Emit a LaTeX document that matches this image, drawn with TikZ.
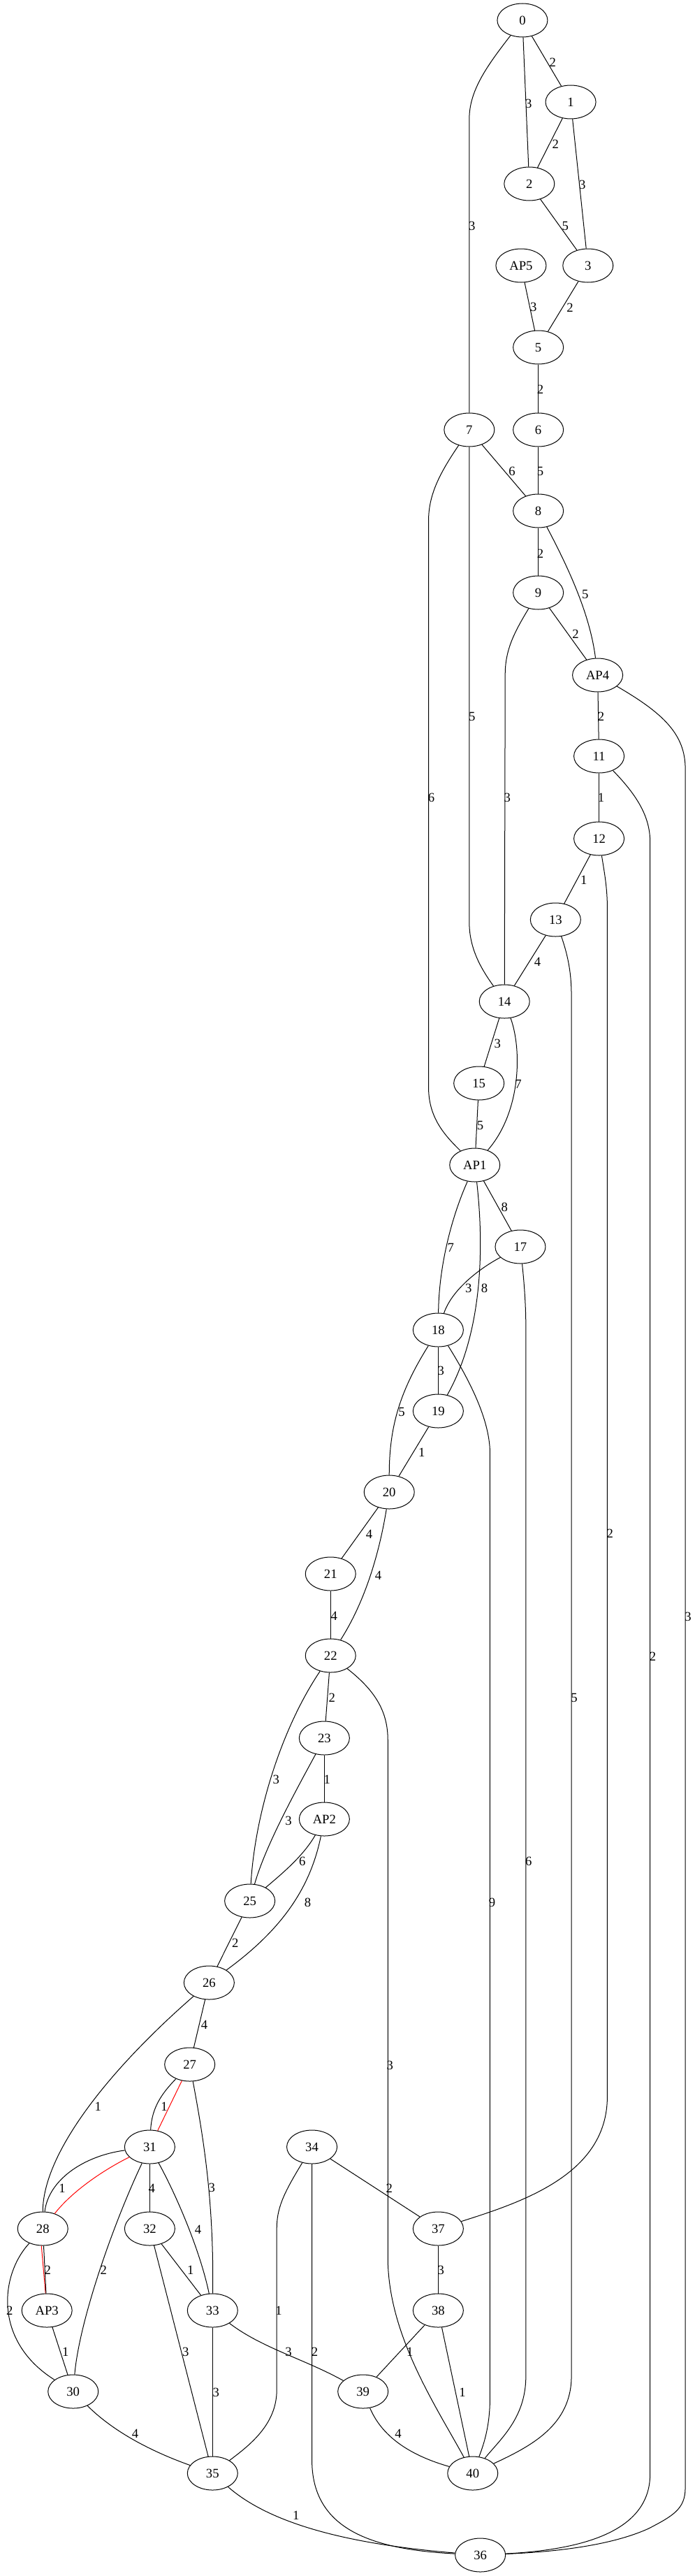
\documentclass[tikz,border=0pt]{standalone}
\usepackage{fontspec}
\setmainfont{Liberation Serif}
\usetikzlibrary{shapes.geometric}
\begin{document}
\begin{tikzpicture}[x=0.741pt,y=-0.75pt,
  vtx/.style={ellipse,draw,line width=0.75pt,minimum width=54pt,minimum height=36pt,inner sep=0pt,font=\fontsize{14}{16}\selectfont},
  lbl/.style={font=\fontsize{14}{16}\selectfont,inner sep=0pt},
  edge/.style={line width=0.75pt},
  hl/.style={line width=0.75pt,red}]
\useasboundingbox (0,0) rectangle (1007,3686);
% nodes
\node[vtx] (n0) at (757,29) {0};
\node[vtx] (n1) at (827,146) {1};
\node[vtx] (n2) at (767,263) {2};
\node[vtx] (nAP5) at (755,380) {AP5};
\node[vtx] (n3) at (852,380) {3};
\node[vtx] (n5) at (780,497) {5};
\node[vtx] (n7) at (680,615) {7};
\node[vtx] (n6) at (780,615) {6};
\node[vtx] (n8) at (780,731) {8};
\node[vtx] (n9) at (780,848) {9};
\node[vtx] (nAP4) at (866,966) {AP4};
\node[vtx] (n11) at (868,1082) {11};
\node[vtx] (n12) at (868,1200) {12};
\node[vtx] (n13) at (805,1316) {13};
\node[vtx] (n14) at (731,1433) {14};
\node[vtx] (n15) at (694,1550) {15};
\node[vtx] (nAP1) at (688,1667) {AP1};
\node[vtx] (n17) at (754,1784) {17};
\node[vtx] (n18) at (635,1903) {18};
\node[vtx] (n19) at (635,2019) {19};
\node[vtx] (n20) at (564,2135) {20};
\node[vtx] (n21) at (479,2252) {21};
\node[vtx] (n22) at (479,2369) {22};
\node[vtx] (n23) at (470,2487) {23};
\node[vtx] (nAP2) at (470,2603) {AP2};
\node[vtx] (n25) at (362,2720) {25};
\node[vtx] (n26) at (303,2837) {26};
\node[vtx] (n27) at (275,2954) {27};
\node[vtx] (n31) at (217,3072) {31};
\node[vtx] (n34) at (452,3072) {34};
\node[vtx] (n28) at (62,3189) {28};
\node[vtx] (n32) at (217,3189) {32};
\node[vtx] (n37) at (635,3189) {37};
\node[vtx] (nAP3) at (68,3306) {AP3};
\node[vtx] (n33) at (308,3306) {33};
\node[vtx] (n38) at (635,3306) {38};
\node[vtx] (n30) at (106,3422) {30};
\node[vtx] (n39) at (526,3422) {39};
\node[vtx] (n35) at (308,3539) {35};
\node[vtx] (n40) at (685,3539) {40};
\node[vtx] (n36) at (696,3656) {36};
% highlighted path
\draw[hl] (n27) -- (n31);
\draw[hl] (n31) .. controls (150,3105) and (105,3135) .. (n28);
\draw[hl] ([xshift=-1.5pt]n28.south) -- ([xshift=-1.5pt]nAP3.north);
% edges
\draw[edge] (n0) -- (n1);
\draw[edge] (n0) -- (n2);
\draw[edge] (n0) .. controls (705,95) and (680,130) .. (680,170) -- (n7);
\draw[edge] (n1) -- (n2);
\draw[edge] (n1) -- (n3);
\draw[edge] (n2) -- (n3);
\draw[edge] (nAP5) -- (n5);
\draw[edge] (n3) -- (n5);
\draw[edge] (n5) -- (n6);
\draw[edge] (n7) -- (n8);
\draw[edge] (n6) -- (n8);
\draw[edge] (n7) .. controls (635,680) and (621,710) .. (621,745) -- (621,1556) .. controls (621,1600) and (645,1625) .. (nAP1);
\draw[edge] (n7) -- (680,1320) .. controls (680,1360) and (700,1390) .. (n14);
\draw[edge] (n8) -- (n9);
\draw[edge] (n8) .. controls (825,815) and (855,880) .. (nAP4);
\draw[edge] (n9) -- (nAP4);
\draw[edge] (n9) .. controls (745,905) and (732,930) .. (732,965) -- (n14);
\draw[edge] (nAP4) -- (n11);
\draw[edge] (nAP4) .. controls (960,1020) and (993,1050) .. (993,1100) -- (993,3560) .. controls (993,3590) and (975,3600) .. (940,3618) .. controls (880,3645) and (790,3652) .. (n36);
\draw[edge] (n11) -- (n12);
\draw[edge] (n11) .. controls (925,1140) and (942,1170) .. (942,1205) -- (942,3540) .. controls (942,3620) and (850,3648) .. (n36);
\draw[edge] (n12) -- (n13);
\draw[edge] (n12) .. controls (876,1250) and (880,1270) .. (880,1300) -- (880,3000) .. controls (880,3110) and (760,3150) .. (n37);
\draw[edge] (n13) -- (n14);
\draw[edge] (n13) .. controls (824,1370) and (828,1395) .. (828,1425) -- (828,3400) .. controls (828,3470) and (770,3500) .. (n40);
\draw[edge] (n14) -- (n15);
\draw[edge] (n14) .. controls (756,1500) and (756,1590) .. (nAP1);
\draw[edge] (n15) -- (nAP1);
\draw[edge] (nAP1) -- (n17);
\draw[edge] (nAP1) .. controls (655,1740) and (636,1810) .. (n18);
\draw[edge] (nAP1) .. controls (700,1770) and (703,1900) .. (n19);
\draw[edge] (n17) .. controls (695,1815) and (655,1845) .. (n18);
\draw[edge] (n17) .. controls (760,1840) and (762,1870) .. (762,1900) -- (762,3400) .. controls (762,3460) and (725,3490) .. (n40);
\draw[edge] (n18) -- (n19);
\draw[edge] (n18) .. controls (580,1990) and (564,2040) .. (n20);
\draw[edge] (n18) .. controls (690,1990) and (710,2040) .. (710,2080) -- (710,3430) .. controls (710,3470) and (702,3495) .. (n40);
\draw[edge] (n19) -- (n20);
\draw[edge] (n20) -- (n21);
\draw[edge] (n20) .. controls (550,2220) and (530,2290) .. (n22);
\draw[edge] (n21) -- (n22);
\draw[edge] (n22) -- (n23);
\draw[edge] (n22) .. controls (410,2470) and (370,2590) .. (n25);
\draw[edge] (n22) .. controls (545,2420) and (562,2450) .. (562,2490) -- (562,3230) .. controls (562,3340) and (630,3440) .. (n40);
\draw[edge] (n23) -- (nAP2);
\draw[edge] (n23) .. controls (430,2560) and (385,2640) .. (n25);
\draw[edge] (nAP2) .. controls (440,2655) and (410,2680) .. (n25);
\draw[edge] (nAP2) .. controls (450,2700) and (410,2760) .. (n26);
\draw[edge] (n25) -- (n26);
\draw[edge] (n26) -- (n27);
\draw[edge] (n26) .. controls (160,2960) and (62,3080) .. (n28);
\draw[edge] (n27) .. controls (235,2995) and (220,3015) .. (n31);
\draw[edge] (n27) .. controls (295,3060) and (310,3150) .. (n33);
\draw[edge] (n31) .. controls (120,3085) and (70,3120) .. (n28);
\draw[edge] (n31) -- (n32);
\draw[edge] (n31) .. controls (255,3140) and (290,3220) .. (n33);
\draw[edge] (n31) .. controls (165,3180) and (115,3320) .. (n30);
\draw[edge] (n28) -- (nAP3);
\draw[edge] (n28) .. controls (0,3255) and (-10,3350) .. (n30);
\draw[edge] (n32) -- (n33);
\draw[edge] (n32) -- (n35);
\draw[edge] (n34) -- (n37);
\draw[edge] (n34) .. controls (410,3140) and (401,3160) .. (401,3190) -- (401,3420) .. controls (401,3470) and (360,3500) .. (n35);
\draw[edge] (n34) -- (452,3520) .. controls (452,3620) and (540,3648) .. (n36);
\draw[edge] (n37) -- (n38);
\draw[edge] (nAP3) -- (n30);
\draw[edge] (n33) -- (n35);
\draw[edge] (n33) .. controls (380,3360) and (440,3375) .. (n39);
\draw[edge] (n38) -- (n39);
\draw[edge] (n38) -- (n40);
\draw[edge] (n30) .. controls (165,3480) and (220,3508) .. (n35);
\draw[edge] (n39) .. controls (555,3490) and (600,3515) .. (n40);
\draw[edge] (n35) .. controls (390,3610) and (500,3640) .. (n36);
% edge labels
\node[lbl] (l0-1) at (801,89) {2};
\node[lbl] (l0-2) at (766,148) {3};
\node[lbl] (l0-7) at (684,323) {3};
\node[lbl] (l1-2) at (805,206) {2};
\node[lbl] (l1-3) at (844,264) {3};
\node[lbl] (l2-3) at (819,323) {5};
\node[lbl] (lAP5-5) at (773,439) {3};
\node[lbl] (l3-5) at (826,440) {2};
\node[lbl] (l5-6) at (783,557) {2};
\node[lbl] (l7-8) at (742,674) {6};
\node[lbl] (l6-8) at (783,674) {5};
\node[lbl] (l7-AP1) at (625,1141) {6};
\node[lbl] (l7-14) at (684,1025) {5};
\node[lbl] (l8-9) at (783,792) {2};
\node[lbl] (l8-AP4) at (848,850) {5};
\node[lbl] (l9-AP4) at (834,907) {2};
\node[lbl] (l9-14) at (735,1141) {3};
\node[lbl] (lAP4-11) at (871,1025) {2};
\node[lbl] (lAP4-36) at (997,2313) {3};
\node[lbl] (l11-12) at (871,1141) {1};
\node[lbl] (l11-36) at (946,2370) {2};
\node[lbl] (l12-13) at (846,1259) {1};
\node[lbl] (l12-37) at (884,2194) {2};
\node[lbl] (l13-14) at (779,1376) {4};
\node[lbl] (l13-40) at (832,2429) {5};
\node[lbl] (l14-15) at (721,1493) {3};
\node[lbl] (l14-AP1) at (751,1551) {7};
\node[lbl] (l15-AP1) at (696,1610) {5};
\node[lbl] (lAP1-17) at (731,1727) {8};
\node[lbl] (lAP1-18) at (653,1785) {7};
\node[lbl] (lAP1-19) at (702,1843) {8};
\node[lbl] (l17-18) at (679,1843) {3};
\node[lbl] (l17-40) at (766,2663) {6};
\node[lbl] (l18-19) at (639,1961) {3};
\node[lbl] (l18-20) at (582,2020) {5};
\node[lbl] (l18-40) at (713,2722) {9};
\node[lbl] (l19-20) at (611,2078) {1};
\node[lbl] (l20-21) at (535,2195) {4};
\node[lbl] (l20-22) at (548,2254) {4};
\node[lbl] (l21-22) at (484,2312) {4};
\node[lbl] (l22-23) at (481,2429) {2};
\node[lbl] (l22-25) at (400,2546) {3};
\node[lbl] (l22-40) at (565,2955) {3};
\node[lbl] (l23-AP2) at (474,2546) {1};
\node[lbl] (l23-25) at (418,2605) {3};
\node[lbl] (lAP2-25) at (438,2663) {6};
\node[lbl] (lAP2-26) at (446,2722) {8};
\node[lbl] (l25-26) at (341,2780) {2};
\node[lbl] (l26-27) at (296,2897) {4};
\node[lbl] (l26-28) at (142,3014) {1};
\node[lbl] (l27-31) at (238,3014) {1};
\node[lbl] (l27-33) at (307,3130) {3};
\node[lbl] (l31-28) at (90,3131) {1};
\node[lbl] (l31-32) at (220,3131) {4};
\node[lbl] (l31-33) at (287,3190) {4};
\node[lbl] (l31-30) at (150,3248) {2};
\node[lbl] (l28-AP3) at (69,3248) {2};
\node[lbl] (l28-30) at (14,3306) {2};
\node[lbl] (l32-33) at (276,3248) {1};
\node[lbl] (l32-35) at (269,3365) {3};
\node[lbl] (l34-37) at (564,3131) {2};
\node[lbl] (l34-35) at (404,3306) {1};
\node[lbl] (l34-36) at (456,3365) {2};
\node[lbl] (l37-38) at (639,3248) {3};
\node[lbl] (lAP3-30) at (95,3365) {1};
\node[lbl] (l33-35) at (313,3423) {3};
\node[lbl] (l33-39) at (418,3365) {3};
\node[lbl] (l38-39) at (594,3365) {1};
\node[lbl] (l38-40) at (670,3423) {1};
\node[lbl] (l30-35) at (196,3482) {4};
\node[lbl] (l39-40) at (577,3482) {4};
\node[lbl] (l35-36) at (429,3599) {1};
\end{tikzpicture}
\end{document}
